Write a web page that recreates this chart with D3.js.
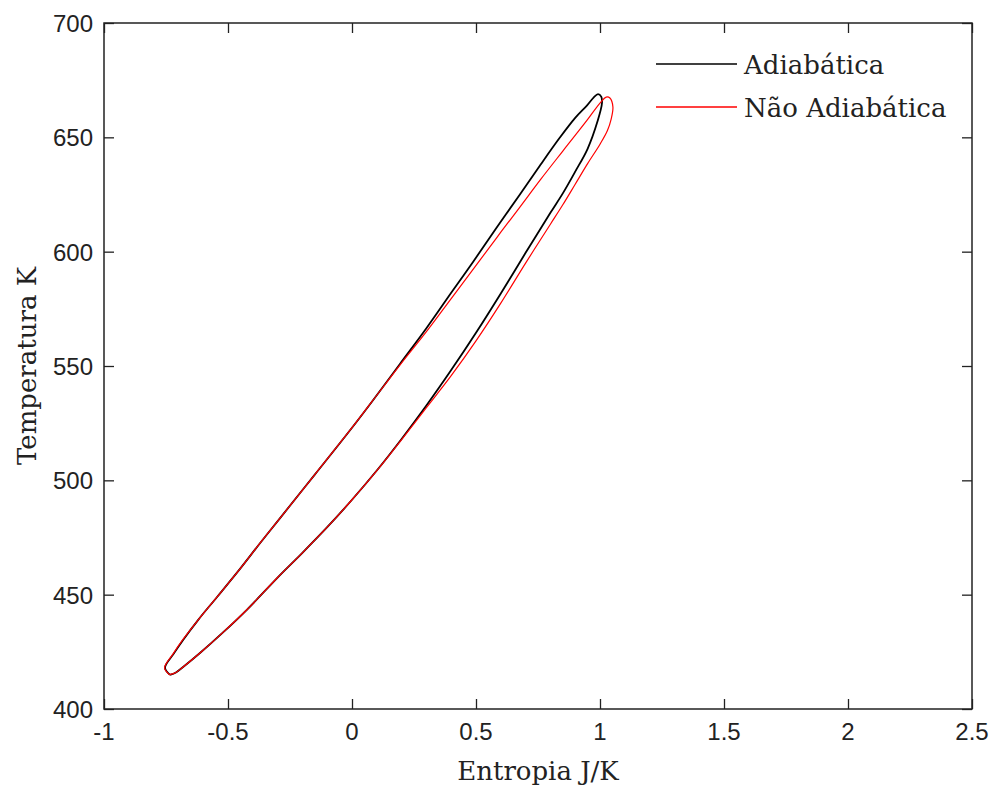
<!DOCTYPE html>
<html>
<head>
<meta charset="utf-8">
<script src="https://cdn.jsdelivr.net/npm/d3@7"></script>
<style>
  html, body { margin: 0; padding: 0; background: #fff; }
  svg { display: block; }
  .tick-label { font-family: "Liberation Sans", Arial, sans-serif; font-size: 24px; fill: #222; }
  .axis-title { font-family: "DejaVu Serif", serif; font-size: 26px; fill: #222; }
  .legend-text { font-family: "DejaVu Serif", serif; font-size: 26px; fill: #222; }
</style>
</head>
<body>
<svg id="chart" width="993" height="787"></svg>
<script>
// Temperature-entropy cycle, adiabatic vs non-adiabatic.
// Each loop: [entropy J/K, temperature K], from the cold tip along the upper side to the hot tip, then back.
const adiabatica = [
  [-0.734, 414.9], [-0.754, 418], [-0.72, 424], [-0.681, 430.2], [-0.62, 439], [-0.544, 449],
  [-0.45, 461.5], [-0.371, 472.5], [-0.29, 483.5], [-0.15, 502.5], [0, 523], [0.081, 534.5],
  [0.194, 551], [0.3, 566.5], [0.4, 582], [0.488, 595.5], [0.58, 610], [0.677, 625],
  [0.76, 638], [0.839, 650], [0.9, 658.5], [0.948, 664], [0.975, 667.5], [0.992, 668.9],
  [1.005, 667.8], [1.008, 665],
  [0.99, 657], [0.95, 645], [0.9, 635], [0.85, 625.5], [0.8, 617], [0.7, 599.5],
  [0.6, 581.7], [0.5, 564.5], [0.4, 548.2], [0.3, 532.7], [0.2, 518.1], [0.1, 504.3],
  [0, 491.5], [-0.1, 479.5], [-0.2, 468.3], [-0.3, 457.5], [-0.423, 443.5], [-0.52, 433.5],
  [-0.613, 424.5], [-0.681, 418.4], [-0.71, 416], [-0.734, 414.9]
];

const naoAdiabatica = [
  [-0.736, 415], [-0.756, 418], [-0.722, 424], [-0.683, 430.2], [-0.62, 439], [-0.544, 449],
  [-0.45, 461.5], [-0.371, 472.5], [-0.29, 483.5], [-0.15, 502.5], [0, 523], [0.081, 534.5],
  [0.194, 550.5], [0.3, 565], [0.4, 579.5], [0.516, 596.3], [0.6, 608.5], [0.677, 619.5],
  [0.76, 631.5], [0.85, 644], [0.948, 657.5], [1.0, 665], [1.025, 667.6], [1.04, 667.2],
  [1.052, 663.3],
  [1.045, 658], [1.03, 653], [1.0, 647], [0.95, 638.5], [0.9, 629.5], [0.85, 620.5],
  [0.8, 612], [0.7, 595], [0.6, 577.5], [0.5, 561], [0.4, 545.8], [0.3, 531.8],
  [0.2, 517.8], [0.1, 504.2], [0, 491.5], [-0.1, 479.5], [-0.2, 468.3], [-0.3, 457.5],
  [-0.423, 443.5], [-0.52, 433.5], [-0.613, 424.5], [-0.681, 418.4], [-0.71, 416], [-0.736, 415]
];

const xTicks = [-1, -0.5, 0, 0.5, 1, 1.5, 2, 2.5];
const yTicks = [400, 450, 500, 550, 600, 650, 700];
const xDomain = [-1, 2.5];
const yDomain = [400, 700];
const seriesNames = ["Adiabática", "Não Adiabática"];
const seriesColors = ["#000000", "#ff0000"];

const svg = d3.select("#chart");
const plot = { left: 104, right: 972, top: 23, bottom: 709 };

const x = d3.scaleLinear().domain(xDomain).range([plot.left, plot.right]);
const y = d3.scaleLinear().domain(yDomain).range([plot.bottom, plot.top]);

const fmt = d => String(d);
const tickLen = 10;

// Inward ticks on all four sides, box drawn separately
const axes = svg.append("g");
axes.append("g").attr("transform", `translate(0,${plot.bottom})`)
  .call(d3.axisTop(x).tickValues(xTicks).tickSize(tickLen).tickFormat(""));
axes.append("g").attr("transform", `translate(0,${plot.top})`)
  .call(d3.axisBottom(x).tickValues(xTicks).tickSize(tickLen).tickFormat(""));
axes.append("g").attr("transform", `translate(${plot.left},0)`)
  .call(d3.axisRight(y).tickValues(yTicks).tickSize(tickLen).tickFormat(""));
axes.append("g").attr("transform", `translate(${plot.right},0)`)
  .call(d3.axisLeft(y).tickValues(yTicks).tickSize(tickLen).tickFormat(""));
axes.selectAll(".domain").remove();
axes.selectAll(".tick line").attr("stroke", "#222").attr("stroke-width", 1.3);

svg.append("rect")
  .attr("x", plot.left).attr("y", plot.top)
  .attr("width", plot.right - plot.left).attr("height", plot.bottom - plot.top)
  .attr("fill", "none").attr("stroke", "#222").attr("stroke-width", 1.5);

// Tick labels
svg.append("g").selectAll("text").data(xTicks).join("text")
  .attr("class", "tick-label")
  .attr("x", d => x(d)).attr("y", 740)
  .attr("text-anchor", "middle")
  .text(fmt);
svg.append("g").selectAll("text").data(yTicks).join("text")
  .attr("class", "tick-label")
  .attr("x", plot.left - 11).attr("y", d => y(d) + 9)
  .attr("text-anchor", "end")
  .text(fmt);

// Axis titles
svg.append("text").attr("class", "axis-title")
  .attr("x", (plot.left + plot.right) / 2).attr("y", 780)
  .attr("text-anchor", "middle").text("Entropia J/K");
svg.append("text").attr("class", "axis-title")
  .attr("transform", `translate(36,${(plot.top + plot.bottom) / 2}) rotate(-90)`)
  .attr("text-anchor", "middle").text("Temperatura K");

// Cycle curves
const line = d3.line()
  .x(d => x(d[0])).y(d => y(d[1]))
  .curve(d3.curveCatmullRom.alpha(0.5));

svg.append("path").datum(adiabatica)
  .attr("d", line).attr("fill", "none")
  .attr("stroke", seriesColors[0]).attr("stroke-width", 1.8)
  .attr("stroke-linejoin", "round");
svg.append("path").datum(naoAdiabatica)
  .attr("d", line).attr("fill", "none")
  .attr("stroke", seriesColors[1]).attr("stroke-width", 1.2)
  .attr("stroke-linejoin", "round");

// Legend (no frame)
const legend = svg.append("g");
seriesNames.forEach((name, i) => {
  const ly = 64 + i * 43;
  legend.append("line")
    .attr("x1", 656).attr("x2", 737).attr("y1", ly).attr("y2", ly)
    .attr("stroke", seriesColors[i]).attr("stroke-width", 1.5);
  legend.append("text").attr("class", "legend-text")
    .attr("x", 744).attr("y", ly + 10).text(name);
});
</script>
</body>
</html>
